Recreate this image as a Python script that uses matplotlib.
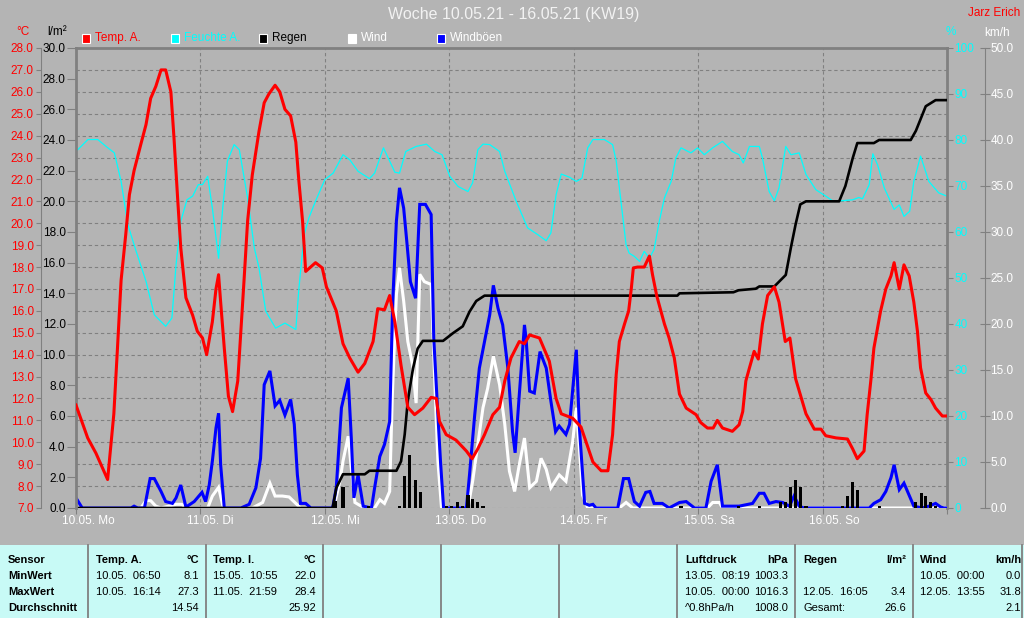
"""
Weather station week chart KW19 (10.05.21 - 16.05.21)
"""

import numpy as np
import matplotlib
matplotlib.use('Agg')
import matplotlib.pyplot as plt
from matplotlib.patches import Rectangle
from matplotlib.lines import Line2D

plt.rcParams['font.family'] = ['Liberation Sans', 'DejaVu Sans']
plt.rcParams['font.size'] = 8

BG = '#b4b4b4'
FRAME = '#808080'
TABLE_BG = '#c8faf6'
RED = '#ff0000'
CYAN = '#00ffff'
BLUE = '#0000ff'

# ---- data, x = hours since 10.05.21 00:00 ----
temp_h = [0, 2.25, 3.85, 6.1, 7.3, 8.0, 8.7, 9.6, 10.3, 11.2, 12.5, 13.5, 14.4, 15.4, 16.4, 17.3,
          18.3, 18.9, 19.6, 20.2, 21.2, 22.5, 23.4, 24.4, 25.2, 26.3, 27.0, 27.5, 27.9, 28.6, 29.4,
          30.2, 31.2, 31.8, 32.4, 33.1, 34.0, 35.3, 36.3, 37.2, 38.4, 39.3, 40.3, 41.4, 42.4, 43.0,
          43.7, 44.3, 46.2, 47.5, 48.3, 50.2, 51.5, 52.8, 54.4, 55.7, 57.3, 58.2, 59.5, 60.5, 61.5,
          62.7, 64.0, 65.3, 66.9, 68.5, 69.5, 70.1, 71.4, 73.3, 75.3, 76.4, 77.5, 78.8, 80.4, 81.7,
          82.7, 83.9, 85.5, 86.5, 87.5, 89.4, 91.3, 92.6, 93.6, 95.8, 97.4, 99.7, 101.3, 102.6,
          103.5, 104.2, 104.8, 105.8, 106.6, 107.1, 107.5, 108.3, 109.6, 110.6, 111.2, 112.0, 113.5,
          114.4, 115.4, 116.4, 117.7, 119.6, 120.5, 121.8, 122.9, 123.7, 124.7, 126.6, 127.9, 128.6,
          129.2, 129.9, 130.8, 131.6, 132.4, 133.4, 134.7, 135.6, 136.8, 137.7, 138.8, 140.8, 142.4,
          143.7, 144.6, 146.6, 148.8, 149.8, 150.7, 152.0, 152.6, 153.3, 153.9, 155.2, 156.2, 157.2,
          157.8, 158.8, 159.7, 160.7, 161.6, 162.3, 162.9, 163.9, 164.9, 165.8, 167.1, 168]
temp_c = [11.7, 10.2, 9.5, 8.3, 11.3, 14.3, 17.4, 19.5, 21.3, 22.4, 23.6, 24.5, 25.7, 26.25, 27.0,
          27.0, 26.0, 23.9, 21.15, 18.9, 16.6, 15.8, 15.07, 14.76, 14.0, 15.5, 17.0, 17.65, 16.4,
          14.3, 12.1, 11.4, 12.8, 15.07, 17.35, 20.1, 22.2, 24.2, 25.5, 25.9, 26.3, 26.0, 25.2, 24.9,
          23.7, 21.9, 20.1, 17.8, 18.2, 17.96, 17.1, 16.0, 14.5, 13.85, 13.2, 13.6, 14.6, 16.1, 16.05,
          16.7, 15.5, 13.5, 11.6, 11.26, 11.56, 12.05, 12.0, 10.96, 10.35, 10.1, 9.6, 9.25, 9.7,
          10.35, 11.26, 11.6, 12.8, 13.85, 14.6, 14.5, 14.9, 14.76, 13.7, 12.0, 11.3, 11.1, 10.7,
          9.1, 8.7, 8.7, 10.35, 13.1, 14.6, 15.4, 16.0, 17.0, 17.96, 18.0, 18.0, 18.5, 17.65, 16.7,
          15.4, 14.76, 13.85, 12.2, 11.56, 11.26, 10.9, 10.65, 10.65, 11.0, 10.65, 10.5, 10.8, 11.4,
          12.8, 13.4, 14.15, 13.8, 15.4, 16.7, 17.1, 16.4, 14.6, 14.76, 12.9, 11.3, 10.6, 10.6, 10.3,
          10.2, 10.15, 9.7, 9.25, 9.6, 11.26, 12.8, 14.3, 16.0, 17.0, 17.6, 18.2, 17.0, 18.1, 17.6,
          16.4, 15.07, 13.4, 12.25, 11.95, 11.56, 11.2, 11.2]

hum_h = [0, 2.3, 4.2, 5.8, 7.4, 8.7, 10.0, 11.6, 13.5, 15.1, 17.3, 18.5, 19.3, 20.2, 21.4, 22.5,
         23.6, 24.4, 25.4, 26.3, 27.5, 28.3, 29.2, 30.5, 31.5, 33.1, 34.4, 35.3, 36.6, 38.5, 40.3,
         42.4, 43.0, 44.0, 44.9, 46.2, 47.0, 48.0, 49.6, 51.5, 52.8, 54.4, 56.6, 57.6, 59.3, 60.5,
         61.5, 62.4, 63.6, 65.6, 67.6, 69.2, 70.6, 72.1, 73.7, 75.6, 76.5, 77.5, 78.5, 79.8, 81.7,
         82.7, 84.9, 87.1, 89.1, 90.7, 91.6, 92.6, 93.6, 95.2, 96.5, 97.6, 98.7, 99.7, 101.9, 103.5,
         104.2, 105.1, 106.1, 106.7, 107.7, 108.7, 109.6, 110.6, 111.5, 112.5, 113.5, 114.8, 115.7,
         116.7, 118.6, 119.9, 121.2, 122.8, 124.7, 126.6, 127.9, 128.7, 129.9, 131.8, 132.4, 133.7,
         134.7, 135.6, 136.9, 137.9, 139.5, 140.8, 142.7, 144.6, 145.9, 147.8, 149.8, 151.0, 151.7,
         153.0, 153.7, 154.6, 155.9, 157.8, 158.8, 159.7, 160.8, 161.6, 162.9, 164.5, 166.4, 168]
hum_pct = [77.5, 80.1, 80.1, 78.6, 77.2, 71.0, 61.6, 55.8, 49.3, 42.0, 39.5, 41.3, 52.9, 62.3, 67.0,
           67.8, 70.3, 70.3, 72.1, 65.2, 54.3, 65.2, 75.4, 79.0, 77.9, 67.4, 56.5, 52.2, 42.8, 39.1,
           40.2, 38.8, 47.8, 59.4, 63.0, 66.7, 68.8, 71.4, 72.8, 76.8, 75.7, 73.2, 71.6, 72.8, 78.3,
           75.4, 73.0, 72.8, 77.5, 78.6, 79.1, 77.5, 76.8, 72.1, 69.9, 68.8, 70.7, 77.9, 79.1, 79.0,
           77.5, 73.2, 66.7, 60.9, 59.4, 58.1, 59.8, 68.1, 72.6, 71.9, 71.0, 71.7, 78.3, 80.1, 80.1,
           79.0, 75.4, 66.7, 57.2, 55.4, 54.7, 53.6, 55.8, 54.3, 56.2, 62.3, 67.4, 71.0, 76.1, 78.3,
           77.2, 78.3, 76.8, 78.3, 79.7, 77.5, 76.8, 75.0, 78.6, 78.6, 76.1, 68.8, 66.8, 69.6, 78.6,
           76.8, 77.2, 72.5, 69.2, 67.8, 66.8, 66.8, 67.0, 67.5, 67.2, 70.3, 77.0, 74.6, 69.6, 64.9,
           65.9, 63.4, 64.5, 71.0, 76.5, 71.0, 68.5, 67.8]

rain_sum_h = [0, 49.5, 50.2, 51.5, 55.7, 56.6, 61.8, 62.7, 63.4, 64.0, 65.0, 65.9, 66.9, 70.8, 72.7,
              74.6, 75.9, 77.2, 78.8, 116.0, 116.4, 126.8, 127.8, 131.1, 131.8, 134.7, 136.9, 137.9,
              138.8, 139.7, 140.8, 147.2, 148.4, 149.8, 150.7, 153.9, 154.9, 161.0, 162.0, 163.9,
              165.8, 168]
rain_sum = [0, 0, 1.3, 2.2, 2.2, 2.43, 2.43, 3.05, 4.8, 7.0, 9.1, 10.4, 10.9, 10.9, 11.4, 11.85,
            12.8, 13.5, 13.85, 13.85, 14.0, 14.07, 14.2, 14.3, 14.45, 14.45, 15.2, 17.0, 18.5, 19.8,
            20.0, 20.0, 21.0, 22.8, 23.8, 23.8, 24.0, 24.0, 24.6, 26.2, 26.6, 26.6]

rain_bar_h = [50.0, 51.5, 56.5, 62.4, 63.4, 64.3, 65.5, 66.5, 71.5, 72.5, 73.5, 74.6, 75.6, 76.5,
              77.5, 78.5, 116.7, 127.8, 131.8, 135.8, 136.8, 137.8, 138.8, 139.8, 140.8, 147.8,
              148.8, 149.8, 150.7, 154.9, 162.0, 163.0, 163.9, 164.9, 165.8]
rain_bar = [0.44, 1.35, 0.1, 0.1, 2.07, 3.43, 1.85, 1.02, 0.15, 0.15, 0.4, 0.15, 0.83, 0.6, 0.4,
            0.15, 0.1, 0.1, 0.1, 0.4, 0.4, 1.4, 1.85, 1.4, 0.15, 0.15, 0.8, 1.7, 1.2, 0.15, 0.4,
            1.0, 0.8, 0.4, 0.15]

gust_h = [0, 1.2, 10.6, 11.2, 11.9, 13.2, 14.3, 15.1, 16.4, 17.3, 18.6, 19.3, 20.2, 21.2, 22.8,
          24.3, 25.0, 25.7, 26.3, 27.0, 27.5, 27.9, 28.6, 31.8, 33.4, 34.7, 35.6, 36.3, 37.4, 38.4,
          39.3, 40.3, 41.4, 42.1, 42.7, 43.3, 44.3, 45.3, 49.5, 50.2, 51.2, 52.5, 53.1, 53.6, 54.4,
          55.4, 57.0, 57.6, 58.6, 59.5, 60.5, 61.1, 61.8, 62.4, 63.2, 63.8, 64.5, 65.5, 66.3, 67.4,
          68.5, 69.0, 69.8, 70.3, 70.9, 75.3, 75.9, 76.9, 77.8, 78.8, 79.8, 80.5, 81.4, 82.3, 83.3,
          84.2, 84.7, 85.5, 86.5, 86.8, 87.5, 88.4, 89.5, 90.7, 91.6, 92.5, 93.2, 94.5, 95.2, 96.5,
          97.1, 98.1, 99.0, 99.7, 100.3, 104.5, 105.6, 106.6, 107.7, 108.7, 109.9, 110.7, 111.5,
          113.1, 114.4, 116.4, 117.7, 119.3, 121.5, 122.5, 123.7, 124.7, 127.9, 130.5, 131.8, 132.7,
          133.7, 135.0, 136.3, 137.6, 138.5, 139.5, 140.4, 153.0, 153.9, 155.2, 156.2, 157.2, 157.8,
          158.8, 159.7, 160.7, 161.6, 163.2, 164.5, 165.8, 166.8, 167.4, 168]
gust = [1.1, 0, 0, 0.2, 0, 0, 3.2, 3.2, 1.8, 0.7, 0.5, 1.1, 2.5, 0.1, 0.7, 1.7, 0.7, 2.5, 5.1, 8.7,
        10.3, 4.7, 0, 0, 0.4, 2.2, 5.4, 13.4, 14.9, 11.1, 11.7, 10.1, 11.8, 9.1, 3.6, 0.5, 0.5, 0,
        0, 2.2, 10.9, 14.1, 7.6, 1.1, 3.6, 0.2, 0, 2.2, 5.6, 6.9, 9.4, 22.5, 31.2, 34.8, 32.6, 29.0,
        24.6, 22.8, 33.0, 33.0, 31.9, 18.5, 10.1, 5.1, 0, 0, 3.6, 10.1, 15.2, 18.1, 21.0, 24.2,
        21.7, 19.9, 15.2, 8.3, 6.0, 12.3, 19.9, 18.5, 12.7, 12.5, 17.0, 15.2, 11.6, 8.3, 8.9, 8.0,
        9.1, 17.2, 8.7, 0.5, 0.3, 0.4, 0, 0, 3.2, 3.2, 0.7, 0.2, 1.7, 1.8, 0.5, 0.5, 0, 0.6, 0.7,
        0, 0, 2.9, 4.7, 0.2, 0.2, 0.5, 1.6, 1.6, 0.5, 0.7, 0.6, 0.2, 1.3, 0.2, 0, 0, 0.5, 0.9, 1.8,
        3.3, 4.7, 2.0, 2.7, 1.4, 0.2, 0, 0.2, 0.5, 0.1, 0, 0]

wind_h = [0, 12.5, 13.5, 14.4, 15.4, 16.4, 19.3, 20.4, 21.2, 25.4, 26.3, 27.5, 28.3, 28.7, 34.0,
          36.0, 37.4, 38.4, 39.8, 41.1, 42.4, 43.3, 49.7, 50.9, 51.5, 52.5, 53.1, 53.8, 54.7, 55.7,
          57.6, 58.6, 59.5, 60.5, 61.0, 61.8, 62.4, 63.2, 64.0, 64.9, 65.6, 66.3, 67.2, 68.5, 69.2,
          69.8, 70.5, 75.6, 76.5, 77.5, 78.5, 79.4, 80.5, 81.7, 82.7, 83.6, 84.6, 85.5, 86.5, 87.5,
          88.8, 89.7, 90.7, 91.6, 93.2, 94.5, 95.8, 96.5, 97.1, 97.7, 98.7, 104.8, 106.1, 107.4,
          121.8, 122.8, 124.1, 124.7, 168]
wind = [0, 0, 0.8, 0.8, 0.2, 0, 0.4, 0.4, 0, 0, 1.3, 2.25, 0.3, 0, 0, 0.6, 2.7, 1.3, 1.3, 1.2,
        0.5, 0, 0, 2.9, 5.1, 7.8, 4.3, 0.6, 0.3, 0, 0, 0.9, 0.5, 1.8, 12.0, 23.2, 26.1, 22.5, 18.1,
        15.6, 11.4, 25.4, 24.6, 24.3, 13.8, 5.1, 0, 0, 2.9, 6.9, 10.9, 13.0, 16.5, 13.4, 9.1, 4.0,
        1.8, 4.7, 7.6, 2.2, 2.9, 5.4, 4.2, 2.2, 3.6, 2.9, 7.2, 10.9, 6.5, 1.4, 0, 0, 0.6, 0, 0,
        0.6, 0.6, 0, 0]

day_labels = ['10.05. Mo', '11.05. Di', '12.05. Mi', '13.05. Do', '14.05. Fr', '15.05. Sa', '16.05. So']

legend_items = [('Temp. A.', RED, RED), ('Feuchte A.', CYAN, CYAN), ('Regen', 'black', 'black'),
                ('Wind', 'white', 'white'), ('Windböen', BLUE, 'white')]

table_cols = [
    ['Sensor', 'MinWert', 'MaxWert', 'Durchschnitt'],
]
table_blocks = [
    # header, unit, rows (left text, right text)
    ('Temp. A.', '°C', [('10.05.  06:50', '8.1'), ('10.05.  16:14', '27.3'), ('', '14.54')]),
    ('Temp. I.', '°C', [('15.05.  10:55', '22.0'), ('11.05.  21:59', '28.4'), ('', '25.92')]),
    ('Luftdruck', 'hPa', [('13.05.  08:19', '1003.3'), ('10.05.  00:00', '1016.3'), ('^0.8hPa/h', '1008.0')]),
    ('Regen', 'l/m²', [('', ''), ('12.05.  16:05', '3.4'), ('Gesamt:', '26.6')]),
    ('Wind', 'km/h', [('10.05.  00:00', '0.0'), ('12.05.  13:55', '31.8'), ('', '2.1')]),
]


def fx(x):
    return x / 1024.0


def fy(y):
    return 1 - y / 618.0


fig = plt.figure(figsize=(10.24, 6.18), dpi=100, facecolor=BG)

ax = fig.add_axes([fx(76), fy(508), 871 / 1024, 460 / 618])
ax.set_facecolor(BG)
axh = ax.twinx()
axw = ax.twinx()
axr = ax.twinx()
axT = ax.twinx()

for a in (ax, axh, axw, axr, axT):
    for s in a.spines.values():
        s.set_visible(False)
    a.set_xlim(0, 168)

# ---- temperature scale (far left) + grid ----
ax.set_ylim(7, 28)
ax.set_yticks(np.arange(7, 28.01, 1))
ax.set_yticklabels([f'{v:.1f}' for v in np.arange(7, 28.01, 1)])
ax.spines['left'].set_visible(True)
ax.spines['left'].set_position(('axes', -0.0405))
ax.spines['left'].set_color(FRAME)
ax.tick_params(axis='y', colors=FRAME, labelcolor=RED, length=3.5, pad=1.5, labelsize=8.5)
ax.set_xticks(range(0, 169, 24))
ax.tick_params(axis='x', colors=FRAME, length=4, labelbottom=False)
ax.grid(True, color=FRAME, ls=(0, (3, 2.5)), lw=0.8)

for d, lab in zip(range(0, 168, 24), day_labels):
    ax.annotate(lab, xy=(d, 0), xycoords=('data', 'axes fraction'), xytext=(-10, -9.5),
                textcoords='offset points', ha='left', va='center', color='white', fontsize=8.5)

# ---- humidity ----
axh.set_ylim(0, 100)
axh.set_yticks(range(0, 101, 10))
axh.spines['right'].set_visible(True)
axh.spines['right'].set_color(FRAME)
axh.spines['right'].set_linewidth(2)
axh.tick_params(axis='y', colors=FRAME, labelcolor=CYAN, length=4.3, pad=1, labelsize=8.5)
axh.plot(hum_h, hum_pct, color=CYAN, lw=0.9)

# ---- wind ----
axw.set_ylim(0, 50)
axw.set_yticks(range(0, 51, 5))
axw.set_yticklabels([f'{v:.1f}' for v in range(0, 51, 5)])
axw.spines['right'].set_visible(True)
axw.spines['right'].set_position(('axes', 1.0433))
axw.spines['right'].set_color(FRAME)
axw.tick_params(axis='y', colors=FRAME, labelcolor='white', direction='inout', length=7, pad=0.5,
                labelsize=8.5)
axw.plot(wind_h, wind, color='white', lw=2.2, solid_joinstyle='miter')
axw.plot(gust_h, gust, color=BLUE, lw=2.2, solid_joinstyle='miter')

# ---- rain ----
axr.set_ylim(0, 30)
axr.yaxis.set_ticks_position('left')
axr.set_yticks(range(0, 31, 2))
axr.set_yticklabels([f'{v:.1f}' for v in range(0, 31, 2)])
for side in ('left', 'top'):
    axr.spines[side].set_visible(True)
    axr.spines[side].set_color(FRAME)
    axr.spines[side].set_linewidth(2)
axr.tick_params(axis='y', colors=FRAME, labelcolor='black', length=6.5, pad=1, labelsize=8.5)
axr.bar(rain_bar_h, rain_bar, width=0.6, color='black')
axr.plot(rain_sum_h, rain_sum, color='black', lw=1.9)

# ---- temperature line on top ----
axT.set_ylim(7, 28)
axT.set_axis_off()
axT.plot(temp_h, temp_c, color=RED, lw=2.2)

# ---- header texts ----
fig.text(fx(514), fy(15), 'Woche 10.05.21 - 16.05.21 (KW19)', color='#f2f2f2', fontsize=11.5,
         ha='center', va='center')
fig.text(fx(1020), fy(13), 'Jarz Erich', color=RED, fontsize=8.5, ha='right', va='center')
fig.text(fx(23), fy(32), '°C', color=RED, fontsize=8.5, ha='center', va='center')
fig.text(fx(57), fy(32), 'l/m²', color='black', fontsize=8.5, ha='center', va='center')
fig.text(fx(951), fy(32), '%', color=CYAN, fontsize=8.5, ha='center', va='center')
fig.text(fx(997), fy(33), 'km/h', color='white', fontsize=8.5, ha='center', va='center')

leg_x = [82, 171, 259, 348, 437]
for (name, col, tcol), lx in zip(legend_items, leg_x):
    fig.add_artist(Rectangle((fx(lx), fy(43)), 8 / 1024, 9 / 618, facecolor=col,
                             edgecolor='white', lw=0.8, transform=fig.transFigure))
    fig.text(fx(lx + 13), fy(38), name, color=tcol, fontsize=8.5, ha='left', va='center')

# ---- bottom summary table ----
fig.add_artist(Rectangle((0, 0), 1, fy(545), facecolor=TABLE_BG, edgecolor='none',
                         transform=fig.transFigure))
for sx in [88, 206, 323, 441, 559, 677, 795, 913, 1022]:
    fig.add_artist(Line2D([fx(sx), fx(sx)], [0, fy(545)], color=FRAME, lw=1.3,
                          transform=fig.transFigure))

row_y = [560, 576, 592, 608]
for yy, txt in zip(row_y, table_cols[0]):
    fig.text(fx(8), fy(yy), txt, fontsize=8, fontweight='bold', ha='left', va='center')

block_x = [(96, 199), (213, 316), (685, 788), (803, 906), (920, 1021)]
for (head, unit, rows), (xl, xr) in zip(table_blocks, block_x):
    fig.text(fx(xl), fy(row_y[0]), head, fontsize=8, fontweight='bold', ha='left', va='center')
    fig.text(fx(xr), fy(row_y[0]), unit, fontsize=8, fontweight='bold', ha='right', va='center')
    for yy, (lt, rt) in zip(row_y[1:], rows):
        fig.text(fx(xl), fy(yy), lt, fontsize=8, ha='left', va='center')
        fig.text(fx(xr), fy(yy), rt, fontsize=8, ha='right', va='center')

fig.savefig('out.png', dpi=100, facecolor=BG)
print('Saved: out.png')
